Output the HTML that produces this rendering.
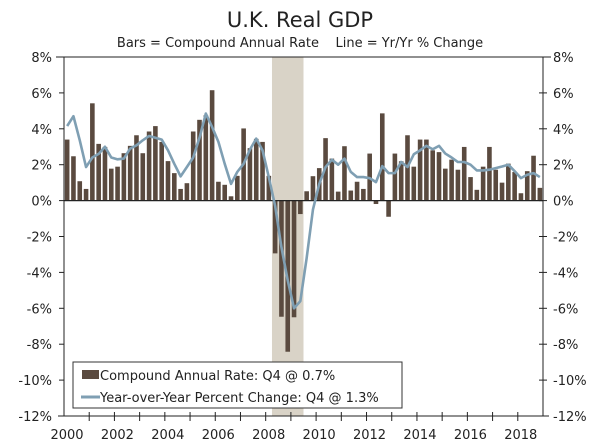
<!DOCTYPE html>
<html><head><meta charset="utf-8"><style>
body{margin:0;background:#fff;}
svg{display:block;font-family:"DejaVu Sans","Liberation Sans",sans-serif;}
</style></head><body>
<svg id="chart" width="600" height="448">
<text x="300" y="27" text-anchor="middle" font-size="21" fill="#222">U.K. Real GDP</text>
<text x="300" y="47" text-anchor="middle" font-size="13" fill="#222" xml:space="preserve">Bars = Compound Annual Rate    Line = Yr/Yr % Change</text>
<g id="g"></g>
</svg>
<script>
const years = [2000,2002,2004,2006,2008,2010,2012,2014,2016,2018];
const yTicks = [8,6,4,2,0,-2,-4,-6,-8,-10,-12];
const barValues = [3.4,2.47,1.08,0.65,5.42,3.16,2.99,1.78,1.89,2.64,3.05,3.64,2.64,3.85,4.15,3.27,2.2,1.53,0.65,0.97,3.85,4.5,4.75,6.15,1.05,0.88,0.24,1.38,4.02,2.92,3.44,3.27,1.38,
-2.94,-6.47,-8.42,-6.5,-0.75,0.52,1.36,1.81,3.48,2.34,0.5,3.03,0.56,1.05,0.65,2.62,-0.19,4.86,-0.9,2.62,2.19,3.64,1.89,3.4,3.4,2.8,2.7,1.78,2.28,1.72,2.99,1.31,0.6,1.89,2.99,1.72,1.0,2.06,1.59,0.41,1.64,2.5,0.71];
const lineValues = [4.15,4.7,3.36,1.87,2.4,2.6,3.0,2.4,2.3,2.34,2.9,3.08,3.36,3.6,3.5,3.4,2.8,2.05,1.35,1.87,2.4,3.5,4.85,4.1,3.27,2.05,0.93,1.6,2.05,2.84,3.45,2.8,1.3,
-0.3,-2.6,-4.45,-6.0,-5.6,-3.2,-0.5,0.93,1.87,2.28,2.0,2.34,1.6,1.31,1.31,1.25,1.03,1.92,1.53,1.53,2.15,1.87,2.58,2.8,3.05,2.86,3.05,2.62,2.4,2.15,2.15,2.0,1.68,1.68,1.72,1.81,1.9,2.0,1.64,1.25,1.44,1.53,1.31];
const recession = [33,37];
const NS="http://www.w3.org/2000/svg";
const L=64,R=543,T=57,B=416,Q=(R-L)/76;
const y=v=>T+(8-v)*(B-T)/20;
const xq=i=>L+(i+0.5)*Q;
const g=document.getElementById('g');
function mk(t,a,p){const e=document.createElementNS(NS,t);for(const k in a)e.setAttribute(k,a[k]);(p||g).appendChild(e);return e;}
let sh=mk('rect',{x:L+recession[0]*Q,y:T,width:(recession[1]-recession[0]+1)*Q,height:B-T,fill:'#d9d3c7'});


barValues.forEach((v,i)=>{const b=mk('rect',{x:xq(i)-2.3,y:Math.min(y(v),y(0)),width:4.6,height:Math.abs(y(v)-y(0)),fill:'#5a4a3f'});

});
mk('line',{x1:L,x2:R,y1:y(0),y2:y(0),stroke:'#222','stroke-width':1.2});
const ln=mk('polyline',{points:lineValues.map((v,i)=>xq(i)+','+y(v)).join(' '),fill:'none',stroke:'#7f9fb3','stroke-width':2.6,'stroke-linejoin':'round'});


mk('line',{x1:L-8,x2:R+8,y1:T,y2:T,stroke:'#222'});
mk('line',{x1:L,x2:L,y1:T,y2:B,stroke:'#222'});
mk('line',{x1:R,x2:R,y1:T,y2:B,stroke:'#222'});
mk('line',{x1:L-6,x2:R+6,y1:B,y2:B,stroke:'#222'});
yTicks.forEach(v=>{mk('line',{x1:L-5,x2:L,y1:y(v),y2:y(v),stroke:'#222'});mk('line',{x1:R-4,x2:R+4,y1:y(v),y2:y(v),stroke:'#222'});
const a=mk('text',{x:52,y:y(v)+5,'text-anchor':'end','font-size':13,fill:'#222'});a.textContent=v+'%';


const b=mk('text',{x:553,y:y(v)+5,'font-size':13,fill:'#222'});b.textContent=v+'%';

});
for(let k=1;k<19;k++){const xx=L+k*4*Q;mk('line',{x1:xx,x2:xx,y1:B-4,y2:B+5,stroke:'#222'});}
years.forEach(yr=>{const t=mk('text',{x:L+(yr-2000)*4*Q+3,y:439,'text-anchor':'middle','font-size':13,fill:'#222'});t.textContent=yr;

});
const lg=mk('g',{});


mk('rect',{x:73,y:362,width:329,height:46,fill:'#fff',stroke:'#333'},lg);
mk('rect',{x:82,y:370,width:17,height:9,fill:'#5a4a3f'},lg);
mk('line',{x1:81,x2:100,y1:397,y2:397,stroke:'#7f9fb3','stroke-width':3},lg);
const t1=mk('text',{x:100,y:380,'font-size':13,fill:'#222'},lg);t1.textContent='Compound Annual Rate: Q4 @ 0.7%';


const t2=mk('text',{x:100,y:402,'font-size':13,fill:'#222'},lg);t2.textContent='Year-over-Year Percent Change: Q4 @ 1.3%';


</script>
</body></html>
